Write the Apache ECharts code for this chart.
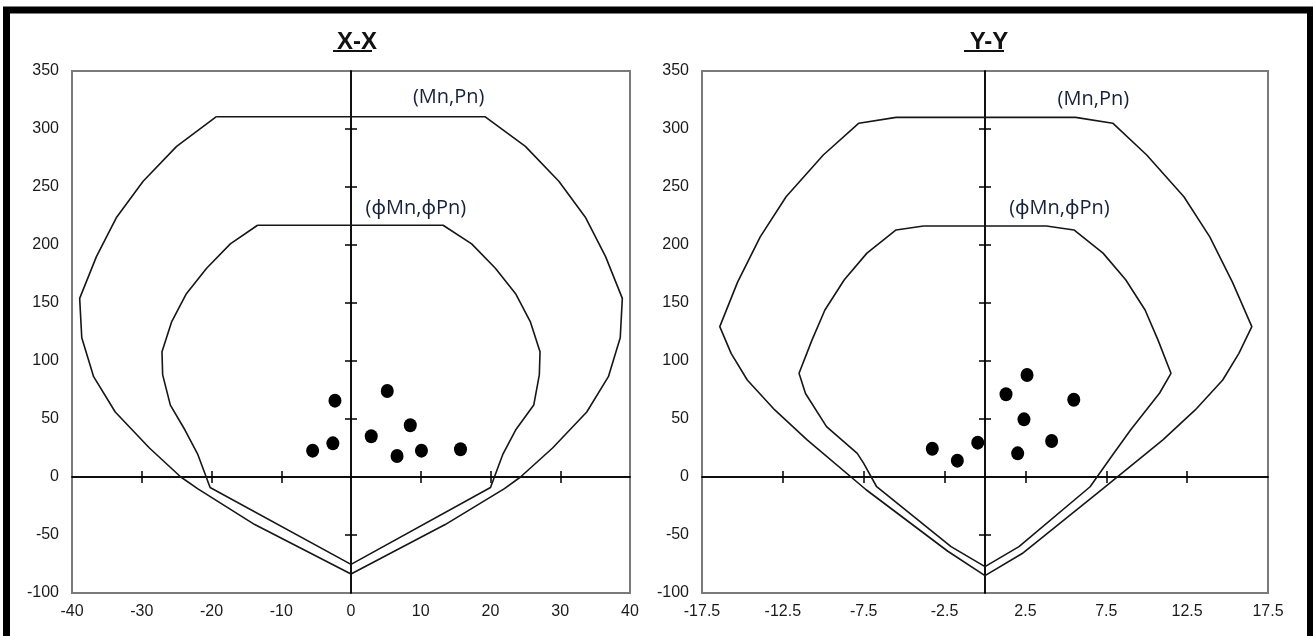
<!DOCTYPE html>
<html>
<head>
<meta charset="utf-8">
<script src="https://cdn.jsdelivr.net/npm/echarts@6/dist/echarts.min.js"></script>
<style>
html,body{margin:0;padding:0;background:#fff;}
#chart{width:1313px;height:636px;}
</style>
</head>
<body>
<div id="chart"></div>
<script>
// ---------- DATA ----------
const chartTitles = ['X-X', 'Y-Y'];
const curveNames = ['(Mn,Pn)', '(\u03d5Mn,\u03d5Pn)'];

// X-X : nominal curve (Mn,Pn)
const xxOuterM = [-19.3, -25.0, -29.8, -33.6, -36.5, -38.9, -38.6, -36.9, -33.8, -28.9, -24.4, -22.0, -13.8, 0, 13.5, 22.0, 24.3, 28.9, 33.8, 36.9, 38.6, 38.9, 36.5, 33.6, 29.8, 25.0, 19.2, -19.3];
const xxOuterP = [310.6, 285, 255, 224, 190, 154, 120, 86.5, 56, 25, 0, -10, -41, -83.6, -41, -10, 0, 25, 56, 86.5, 120, 154, 190, 224, 255, 285, 310.6, 310.6];
// X-X : design curve (phiMn,phiPn)
const xxInnerM = [-13.4, -17.3, -20.7, -23.6, -25.7, -27.1, -27.0, -25.9, -23.8, -22.0, -20.2, 0, 20.0, 21.8, 23.6, 26.2, 27.0, 27.1, 25.7, 23.6, 20.7, 17.3, 13.2, -13.4];
const xxInnerP = [217, 201, 180, 158, 134, 108, 88, 62, 40.5, 20, -9, -75.3, -9, 20, 40.5, 62, 88, 108, 134, 158, 180, 201, 217, 217];
// X-X : load points
const xxPointsM = [-5.5, -2.6, -2.3, 2.9, 5.2, 8.5, 6.6, 10.1, 15.7];
const xxPointsP = [22.7, 29.0, 65.8, 35.1, 74.1, 44.6, 18.1, 22.7, 23.9];

// Y-Y : nominal curve (Mn,Pn)
const yyOuterM = [-5.5, -7.8, -10.0, -12.3, -13.9, -15.3, -16.4, -15.7, -14.7, -13.0, -11.0, -7.35, -2.3, 0, 2.3, 7.2, 11.0, 13.0, 14.7, 15.7, 16.5, 15.3, 13.9, 12.3, 10.0, 7.9, 5.6, -5.5];
const yyOuterP = [310, 305, 277.6, 241.6, 207, 168, 129.6, 106.6, 83.6, 57.8, 32, -11, -64, -85, -66, -11, 32, 57.8, 83.6, 106.6, 129.6, 168, 207, 241.6, 277.6, 305, 310, 310];
// Y-Y : design curve (phiMn,phiPn)
const yyInnerM = [-3.8, -5.5, -7.3, -8.7, -9.9, -10.7, -11.5, -11.1, -9.8, -7.9, -7.5, -6.7, -2.1, 0, 2.1, 6.5, 7.8, 9.0, 10.8, 11.5, 10.7, 9.9, 8.7, 7.3, 5.5, 3.8, -3.8];
const yyInnerP = [216.4, 213, 193, 170, 144, 118, 89.4, 72, 43.4, 20.4, 11.8, -8.4, -60, -77.3, -60, -8.4, 17.2, 40.5, 72.4, 89.4, 118, 144, 170, 193, 213, 216.4, 216.4];
// Y-Y : load points
const yyPointsM = [-3.26, -1.71, -0.45, 1.30, 2.60, 2.41, 2.02, 4.12, 5.49];
const yyPointsP = [24.4, 14.1, 29.6, 71.3, 87.9, 49.7, 20.4, 31.0, 66.6];

// tick labels
const xxTickLabels = [-40, -30, -20, -10, 0, 10, 20, 30, 40];
const yyTickLabels = [-17.5, -12.5, -7.5, -2.5, 2.5, 7.5, 12.5, 17.5];
const pTickLabels = [-100, -50, 0, 50, 100, 150, 200, 250, 300, 350];
// small cross ticks on the zero axes
const xxCrossTicks = [-30, -20, -10, 10, 20, 30];
const yyCrossTicks = [-12.5, -7.5, -2.5, 2.5, 7.5, 12.5];
const pCrossTicks = [-50, 50, 100, 150, 200, 250, 300];

// ---------- BUILD ----------
const zip = (a, b) => a.map((v, i) => [v, b[i]]);
const LINE = '#161616';
const LABEL_FONT = "'Liberation Sans', Arial, sans-serif";
const NOTE_FONT = "'Open Sans', 'Noto Sans', sans-serif";
const NOTE_COLOR = '#16223a';

function makeAxes(gridIndex, dim, min, max, labelVals, crossVals, zeroIdx) {
  const pos = dim === 'x' ? 'bottom' : 'left';
  const base = { type: 'value', gridIndex, min, max, position: pos, splitLine: { show: false } };
  const main = Object.assign({}, base, {
    axisLine: { show: false, onZero: false },
    axisTick: { show: false },
    axisLabel: {
      customValues: labelVals, color: '#1a1a1a', fontSize: 16, fontFamily: LABEL_FONT,
      margin: dim === 'x' ? 11 : 13
    }
  });
  const mk = (inside) => Object.assign({}, base, {
    axisLine: { show: true, onZero: true, onZeroAxisIndex: zeroIdx, lineStyle: { color: '#000', width: 1.5 } },
    axisTick: { show: true, inside, length: 6, customValues: crossVals, lineStyle: { color: '#000', width: 1.5 } },
    axisLabel: { show: false }
  });
  return [main, mk(false), mk(true)];
}

const xAxes = [].concat(
  makeAxes(0, 'x', -40, 40, xxTickLabels, xxCrossTicks, 0),
  makeAxes(1, 'x', -17.5, 17.5, yyTickLabels, yyCrossTicks, 3)
);
const yAxes = [].concat(
  makeAxes(0, 'y', -100, 350, pTickLabels, pCrossTicks, 0),
  makeAxes(1, 'y', -100, 350, pTickLabels, pCrossTicks, 3)
);

function curve(ax, M, P) {
  return {
    type: 'line', xAxisIndex: ax, yAxisIndex: ax, data: zip(M, P),
    symbol: 'none', silent: true, clip: false,
    lineStyle: { color: LINE, width: 1.6 }
  };
}
function points(ax, M, P) {
  return {
    type: 'scatter', xAxisIndex: ax, yAxisIndex: ax, data: zip(M, P),
    symbol: 'circle', symbolSize: [13, 14], itemStyle: { color: '#000', opacity: 1 }
  };
}

const TITLE_FONT = "'Liberation Sans Narrow', 'Arial Narrow', 'Liberation Sans', sans-serif";
const baseGraphic = [
  { type: 'rect', silent: true, shape: { x: 6.5, y: 10, width: 1304, height: 700 },
    style: { fill: 'none', stroke: '#000', lineWidth: 7 } },
  { type: 'line', silent: true, shape: { x1: 333, y1: 51, x2: 372, y2: 51 }, style: { stroke: '#111', lineWidth: 2 } },
  { type: 'line', silent: true, shape: { x1: 964, y1: 51, x2: 1004, y2: 51 }, style: { stroke: '#111', lineWidth: 2 } }
];
const option = {
  animation: false,
  backgroundColor: '#fff',
  title: [
    { text: chartTitles[0], left: 352, top: 25, textAlign: 'center',
      textStyle: { fontSize: 24, fontWeight: 'bold', color: '#111', fontFamily: TITLE_FONT } },
    { text: chartTitles[1], left: 984, top: 25, textAlign: 'center',
      textStyle: { fontSize: 24, fontWeight: 'bold', color: '#111', fontFamily: TITLE_FONT } }
  ],
  graphic: baseGraphic,
  grid: [
    { left: 72, top: 71, width: 558, height: 522, show: true, borderColor: '#7a7a7a', borderWidth: 2, backgroundColor: 'transparent' },
    { left: 702, top: 71, width: 566, height: 522, show: true, borderColor: '#7a7a7a', borderWidth: 2, backgroundColor: 'transparent' }
  ],
  xAxis: xAxes,
  yAxis: yAxes,
  series: [
    curve(0, xxOuterM, xxOuterP),
    curve(0, xxInnerM, xxInnerP),
    points(0, xxPointsM, xxPointsP),
    curve(3, yyOuterM, yyOuterP),
    curve(3, yyInnerM, yyInnerP),
    points(3, yyPointsM, yyPointsP)
  ]
};

const chart = echarts.init(document.getElementById('chart'), null, { renderer: 'canvas' });
chart.setOption(option);

// curve name annotations, anchored in data coordinates of each panel
const notes = [
  { ax: 0, text: curveNames[0], at: [14.0, 327] },
  { ax: 0, text: curveNames[1], at: [9.3, 232] },
  { ax: 3, text: curveNames[0], at: [6.7, 326] },
  { ax: 3, text: curveNames[1], at: [4.6, 232] }
];
const noteGraphics = notes.map(n => {
  const p = chart.convertToPixel({ xAxisIndex: n.ax, yAxisIndex: n.ax }, n.at);
  return {
    type: 'text', silent: true, x: p[0], y: p[1],
    style: { text: n.text, fill: NOTE_COLOR, font: '20px ' + NOTE_FONT, align: 'center', verticalAlign: 'middle' }
  };
});
chart.setOption({ graphic: baseGraphic.concat(noteGraphics) });
</script>
</body>
</html>
